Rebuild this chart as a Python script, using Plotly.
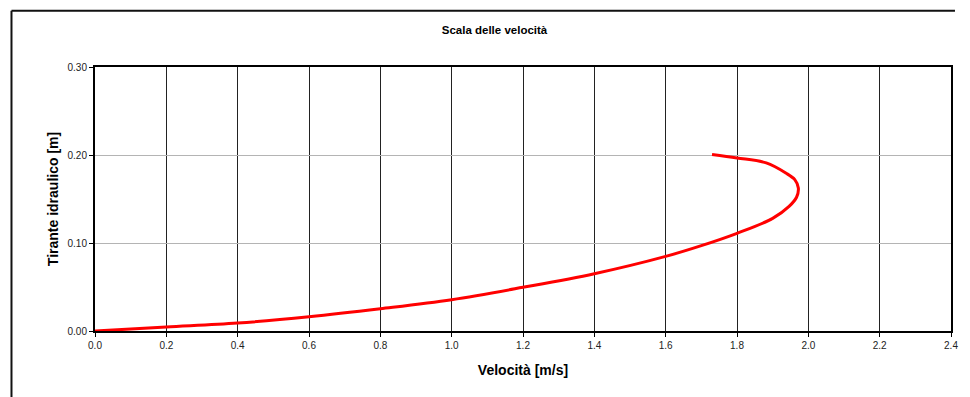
import plotly.graph_objects as go

# Velocity profile: depth (m) against flow velocity (m/s)
velocita = [0.0, 0.2, 0.4, 0.6, 0.8, 1.0, 1.2, 1.4, 1.6, 1.7, 1.8, 1.9,
            1.946, 1.967, 1.972, 1.962, 1.937, 1.882, 1.8, 1.73]
tirante = [0.0, 0.0045, 0.009, 0.0162, 0.0253, 0.0356, 0.0496, 0.0651, 0.0848,
           0.097, 0.111, 0.128, 0.1416, 0.152, 0.1625, 0.172, 0.1795, 0.191, 0.1966, 0.2005]

x_ticks = [0.0, 0.2, 0.4, 0.6, 0.8, 1.0, 1.2, 1.4, 1.6, 1.8, 2.0, 2.2, 2.4]
y_ticks = [0.0, 0.1, 0.2, 0.3]

titolo = "Scala delle velocità"
titolo_x = "Velocità [m/s]"
titolo_y = "Tirante idraulico [m]"

W, H = 970, 397
L, R, T, B = 95, 14, 67, 66

tick_font = dict(family="Liberation Sans Narrow, Arial Narrow, Liberation Sans, Arial",
                 size=10, color="#222222")
bold_font = "Liberation Sans, Arial, sans-serif"

fig = go.Figure()
fig.add_trace(go.Scatter(
    x=velocita, y=tirante, mode="lines",
    line=dict(color="#ff0000", width=3, shape="spline", smoothing=1.0),
    hoverinfo="x+y", showlegend=False,
))

fig.update_xaxes(
    range=[0, 2.4], tickvals=x_ticks, ticktext=[f"{v:.1f}" for v in x_ticks],
    showgrid=True, gridcolor="#222222", gridwidth=1,
    showline=True, linecolor="#000000", linewidth=2, mirror=True,
    ticks="outside", ticklen=4, tickcolor="#000000", tickwidth=1,
    tickfont=tick_font, zeroline=False,
    title=dict(text=f"<b>{titolo_x}</b>", font=dict(family=bold_font, size=14, color="#000000"),
               standoff=15),
)
fig.update_yaxes(
    range=[0, 0.3], tickvals=y_ticks, ticktext=[f"{v:.2f}" for v in y_ticks],
    showgrid=True, gridcolor="#b4b4b4", gridwidth=1,
    showline=True, linecolor="#000000", linewidth=2, mirror=True,
    ticks="outside", ticklen=4, tickcolor="#000000", tickwidth=1,
    tickfont=tick_font, zeroline=False,
    title=dict(text=f"<b>{titolo_y}</b>", font=dict(family=bold_font, size=14, color="#000000"),
               standoff=6),
)

# Outer chart frame (top and left edges)
pw, ph = W - L - R, H - T - B
def px(xp):
    return (xp - L) / pw
def py(yp):
    return (H - B - yp) / ph

frame = dict(color="#111111", width=2)
fig.add_shape(type="line", xref="paper", yref="paper",
              x0=px(11), x1=px(960), y0=py(10.7), y1=py(10.7), line=frame)
fig.add_shape(type="line", xref="paper", yref="paper",
              x0=px(11), x1=px(11), y0=py(10.7), y1=py(H + 2), line=frame)

fig.update_layout(
    width=W, height=H,
    margin=dict(l=L, r=R, t=T, b=B),
    paper_bgcolor="#ffffff", plot_bgcolor="#ffffff",
    title=dict(text=f"<b>{titolo}</b>", x=494.5 / W, xanchor="center",
               y=1 - 30 / H, yanchor="middle",
               font=dict(family=bold_font, size=11.5, color="#000000")),
)

fig.write_html("out.html")
